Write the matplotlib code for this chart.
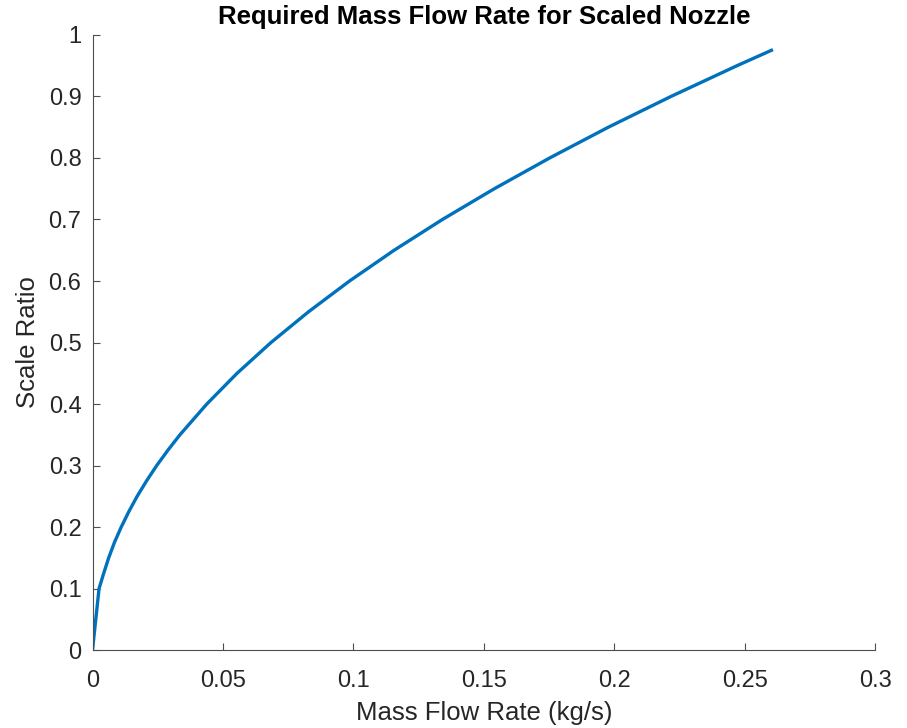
import matplotlib
matplotlib.use("Agg")
import matplotlib.pyplot as plt

# values
scale_ratio = [0.0, 0.1, 0.125, 0.15, 0.175, 0.2, 0.225, 0.25, 0.275, 0.3,
               0.325, 0.35, 0.4, 0.45, 0.5, 0.55, 0.6, 0.65, 0.7, 0.75, 0.8,
               0.85, 0.9, 0.95, 0.975]
mass_flow = [0.0, 0.0025, 0.0043, 0.0062, 0.0084, 0.0110, 0.0139, 0.0171,
             0.0207, 0.0246, 0.0289, 0.0335, 0.0438, 0.0554, 0.0684, 0.0828,
             0.0985, 0.1156, 0.1341, 0.1540, 0.1752, 0.1977, 0.2217, 0.2470,
             0.2602]

x_ticks = [0, 0.05, 0.1, 0.15, 0.2, 0.25, 0.3]
x_labels = ["0", "0.05", "0.1", "0.15", "0.2", "0.25", "0.3"]
y_ticks = [0, 0.1, 0.2, 0.3, 0.4, 0.5, 0.6, 0.7, 0.8, 0.9, 1.0]
y_labels = ["0", "0.1", "0.2", "0.3", "0.4", "0.5", "0.6", "0.7", "0.8", "0.9", "1"]

plt.rcParams["font.family"] = ["Liberation Sans", "DejaVu Sans"]
text_col = "#262626"
axis_col = "#4d4d4d"

fig = plt.figure(figsize=(9.07, 7.28), dpi=100)
ax = fig.add_axes([0.102, 0.107, 0.863, 0.845])

ax.plot(mass_flow, scale_ratio, color="#0072BD", linewidth=2.4)

ax.set_xlim(0, 0.3)
ax.set_ylim(0, 1)
ax.set_xticks(x_ticks, x_labels)
ax.set_yticks(y_ticks, y_labels)
ax.tick_params(direction="in", length=5, width=0.8, color=axis_col,
               labelsize=17, labelcolor=text_col)
ax.tick_params(axis="x", pad=14)
ax.tick_params(axis="y", pad=8)
for side in ["top", "right"]:
    ax.spines[side].set_visible(False)
for side in ["left", "bottom"]:
    ax.spines[side].set_color(axis_col)
    ax.spines[side].set_linewidth(0.8)

ax.set_xlabel("Mass Flow Rate (kg/s)", fontsize=18.5, color=text_col, labelpad=7)
ax.set_ylabel("Scale Ratio", fontsize=18.5, color=text_col, labelpad=6)
ax.set_title("Required Mass Flow Rate for Scaled Nozzle", fontsize=18.5,
             fontweight="bold", color="black", pad=8)

fig.savefig("out.png", dpi=100)
plt.close(fig)
